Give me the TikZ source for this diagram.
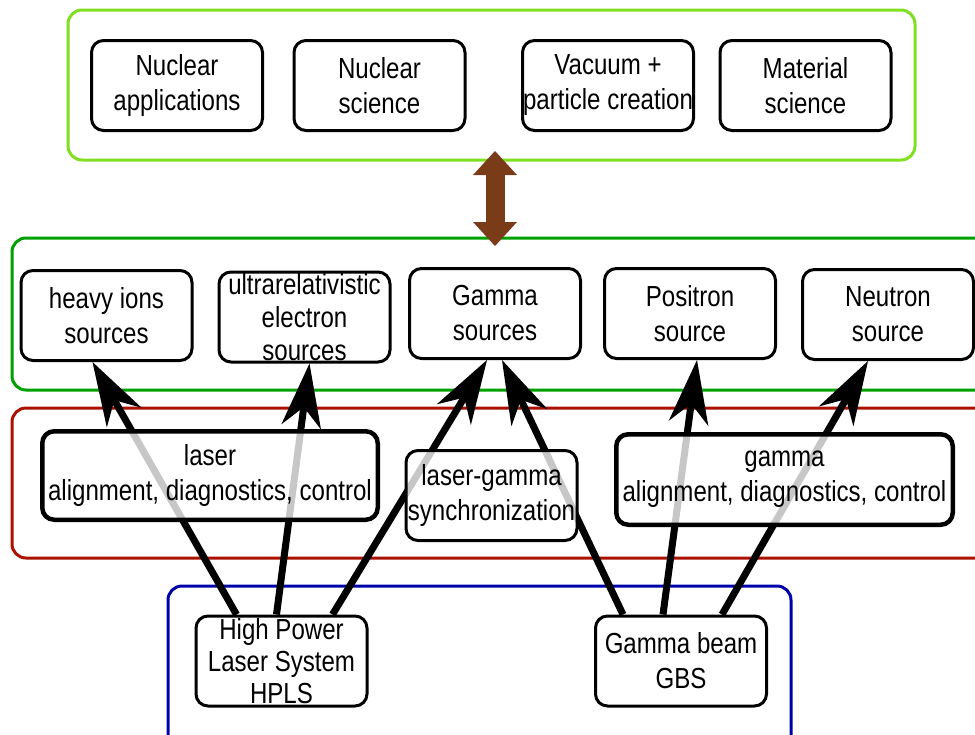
\documentclass[tikz,border=0pt]{standalone}
\usepackage{fontspec}
\setmainfont{Liberation Sans}[FakeStretch=0.83]
\usetikzlibrary{arrows.meta,positioning,calc}
\pgfdeclarelayer{frames}
\pgfdeclarelayer{links}
\pgfsetlayers{frames,links,main}
\definecolor{appgreen}{RGB}{128,224,32}
\definecolor{srcgreen}{RGB}{0,160,0}
\definecolor{ctrlred}{RGB}{170,17,0}
\definecolor{drvblue}{RGB}{0,0,170}
\definecolor{linkbrown}{RGB}{122,59,24}
\tikzset{
  box/.style={draw,line width=3pt,rounded corners=12pt,align=center,inner sep=0pt,
    minimum width=171pt,minimum height=90pt,font=\fontsize{29}{35}\selectfont},
  ctrlbox/.style={box,fill=white,fill opacity=0.78,text opacity=1},
  layerframe/.style={draw,line width=3pt,rounded corners=14pt,inner sep=0pt},
  link/.style={line width=7pt,-{Stealth[length=64pt,width=40pt,inset=20pt,line width=0pt]}},
  duallink/.style={linkbrown,line width=19pt,
    {Triangle[width=44pt,length=24pt,line width=0pt]}-{Triangle[width=44pt,length=24pt,line width=0pt]}}
}
\begin{document}
\begin{tikzpicture}[x=1pt,y=-1pt]
\useasboundingbox (0,0) rectangle (975,734);
% layer frames
\begin{pgfonlayer}{frames}
\node[layerframe,appgreen,minimum width=847pt,minimum height=150pt] (apps) at (491.5,85) {};
\node[layerframe,srcgreen,minimum width=998pt,minimum height=152pt] (sources) at (511,314) {};
\node[layerframe,ctrlred,minimum width=998pt,minimum height=150pt] (control) at (511,483) {};
\node[layerframe,drvblue,minimum width=623pt,minimum height=184pt] (drivers) at (479.5,678) {};
\end{pgfonlayer}
% applications
\node[box] (napp) at (177,85.5) {Nuclear\\applications};
\node[box] (nsci) at (379.5,85.5) {Nuclear\\science};
\node[box] (vac) at (608,85.5) {Vacuum +\\particle creation};
\node[box] (mat) at (805.5,85.5) {Material\\science};
% sources
\node[box] (heavy) at (106.5,315.5) {heavy ions\\sources};
\node[box,font=\fontsize{29}{33}\selectfont] (ultra) at (304.5,317) {ultrarelativistic\\electron\\sources};
\node[box] (gsrc) at (495,313.5) {Gamma\\sources};
\node[box] (pos) at (690,313.5) {Positron\\source};
\node[box] (neut) at (888,314.5) {Neutron\\source};
% alignment and control
\node[ctrlbox,line width=4.5pt,minimum width=335.5pt,minimum height=88.5pt] (lctrl) at (210,475.5) {laser\\alignment, diagnostics, control};
\node[ctrlbox] (sync) at (491.5,495.5) {laser-gamma\\synchronization};
\node[ctrlbox,line width=4.5pt,minimum width=336.5pt,minimum height=90.5pt] (gctrl) at (784.5,479.5) {gamma\\alignment, diagnostics, control};
% drivers
\node[box,font=\fontsize{29}{32}\selectfont] (hpls) at (281.5,661) {High Power\\Laser System\\HPLS};
\node[box] (gbs) at (681,661) {Gamma beam\\GBS};
% connectors
\begin{pgfonlayer}{links}
\draw[link] ([xshift=42pt]hpls.north west) -- ([xshift=73pt]heavy.south west);
\draw[link] ([xshift=82pt]hpls.north west) -- ([xshift=92pt]ultra.south west);
\draw[link] ([xshift=138pt]hpls.north west) -- ([xshift=79pt]gsrc.south west);
\draw[link] ([xshift=29pt]gbs.north west) -- ([xshift=94pt]gsrc.south west);
\draw[link] ([xshift=69pt]gbs.north west) -- ([xshift=94pt]pos.south west);
\draw[link] ([xshift=128pt]gbs.north west) -- ([xshift=67pt]neut.south west);
\draw[duallink] ($(apps.south -| gsrc.south)+(0,-10.5)$) -- ($(sources.north -| gsrc.south)+(0,9.5)$);
\end{pgfonlayer}
\end{tikzpicture}
\end{document}
